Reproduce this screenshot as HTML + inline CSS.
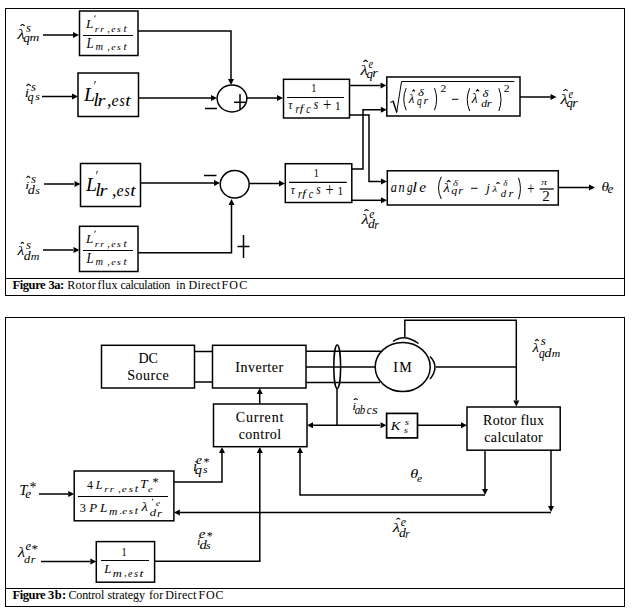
<!DOCTYPE html>
<html><head><meta charset="utf-8"><style>
html,body{margin:0;padding:0;background:#fff;}
svg{display:block;}
text{font-family:"Liberation Serif",serif;fill:#000;stroke:#000;stroke-width:0px;stroke:none;}
line,polyline,rect,ellipse,path{stroke:#000;}
</style></head><body>
<svg width="632" height="613" viewBox="0 0 632 613">
<rect x="5.5" y="8.5" width="619.0" height="287.0" fill="none" stroke-width="1"/>
<line x1="5" y1="278.5" x2="625" y2="278.5" stroke-width="1"/>
<text x="12.40" y="288.8" font-size="12.5" font-weight="bold" textLength="33.28" lengthAdjust="spacing">Figure</text>
<text x="48.50" y="288.8" font-size="12.5" font-weight="bold" textLength="15.63" lengthAdjust="spacing">3a:</text>
<text x="67.20" y="288.8" font-size="12" textLength="28.51" lengthAdjust="spacing">Rotor</text>
<text x="97.60" y="288.8" font-size="12" textLength="19.97" lengthAdjust="spacing">flux</text>
<text x="120.40" y="288.8" font-size="12" textLength="49.87" lengthAdjust="spacing">calculation</text>
<text x="176.00" y="288.8" font-size="12" textLength="9.41" lengthAdjust="spacing">in</text>
<text x="188.60" y="288.8" font-size="12" textLength="31.42" lengthAdjust="spacing">Direct</text>
<text x="221.50" y="288.8" font-size="12" textLength="25.68" lengthAdjust="spacing">FOC</text>
<polyline points="20.5,25.7 22.549999999999997,24.3 24.599999999999998,25.7" fill="none" stroke-width="1.05"/>
<text transform="translate(17.41,38.80) scale(1.216,1)" font-size="13.62" font-style="italic">λ</text>
<text transform="translate(25.97,32.49) scale(1.122,1)" font-size="11.46" font-style="italic">s</text>
<text transform="translate(23.24,41.93) scale(1.101,1)" font-size="11.97" font-style="italic">q</text>
<text transform="translate(29.43,41.40) scale(1.250,1)" font-size="10.85" font-style="italic">m</text>
<polyline points="26.400000000000002,85.7 28.55,84.2 30.7,85.7" fill="none" stroke-width="1.05"/>
<text transform="translate(24.66,97.30) scale(1.250,1)" font-size="12.27" font-style="italic">i</text>
<text transform="translate(31.07,91.48) scale(1.083,1)" font-size="11.87" font-style="italic">s</text>
<text transform="translate(27.47,100.80) scale(0.978,1)" font-size="12.55" font-style="italic">q</text>
<text transform="translate(35.18,100.09) scale(1.061,1)" font-size="11.04" font-style="italic">s</text>
<polyline points="26.400000000000002,177.8 28.35,176.20000000000002 30.3,177.8" fill="none" stroke-width="1.05"/>
<text transform="translate(25.13,188.60) scale(1.250,1)" font-size="11.21" font-style="italic">i</text>
<text transform="translate(31.07,182.69) scale(1.122,1)" font-size="11.46" font-style="italic">s</text>
<text transform="translate(27.77,194.18) scale(1.226,1)" font-size="11.63" font-style="italic">d</text>
<text transform="translate(35.18,194.20) scale(1.148,1)" font-size="10.21" font-style="italic">s</text>
<polyline points="20.7,243.5 22.35,242.3 24.0,243.5" fill="none" stroke-width="1.05"/>
<text transform="translate(17.49,254.60) scale(1.250,1)" font-size="12.34" font-style="italic">λ</text>
<text transform="translate(26.07,248.58) scale(1.083,1)" font-size="11.87" font-style="italic">s</text>
<text transform="translate(23.79,260.08) scale(1.189,1)" font-size="11.63" font-style="italic">d</text>
<text transform="translate(30.68,260.20) scale(1.122,1)" font-size="10.64" font-style="italic">m</text>
<polyline points="363.40000000000003,61.699999999999996 365.55,60.199999999999996 367.7,61.699999999999996" fill="none" stroke-width="1.05"/>
<text transform="translate(360.53,74.60) scale(1.249,1)" font-size="13.62" font-style="italic">λ</text>
<text transform="translate(368.59,68.39) scale(0.895,1)" font-size="11.46" font-style="italic">e</text>
<text x="366.46" y="77.77" font-size="12.70" font-style="italic">q</text>
<text transform="translate(372.23,77.30) scale(1.221,1)" font-size="11.70" font-style="italic">r</text>
<polyline points="563.4,90.89999999999999 565.55,89.39999999999999 567.7,90.89999999999999" fill="none" stroke-width="1.05"/>
<text transform="translate(560.53,103.80) scale(1.249,1)" font-size="13.62" font-style="italic">λ</text>
<text transform="translate(568.59,97.59) scale(0.895,1)" font-size="11.46" font-style="italic">e</text>
<text x="566.46" y="106.97" font-size="12.70" font-style="italic">q</text>
<text transform="translate(572.23,106.50) scale(1.221,1)" font-size="11.70" font-style="italic">r</text>
<polyline points="364.40000000000003,210.70000000000002 366.45000000000005,209.5 368.5,210.70000000000002" fill="none" stroke-width="1.05"/>
<text transform="translate(361.53,223.60) scale(1.250,1)" font-size="13.62" font-style="italic">λ</text>
<text transform="translate(369.15,217.68) scale(0.972,1)" font-size="11.87" font-style="italic">e</text>
<text transform="translate(368.09,228.39) scale(1.185,1)" font-size="11.49" font-style="italic">d</text>
<text x="374.34" y="228.50" font-size="11.49" font-style="italic">r</text>
<text transform="translate(601.54,190.58) scale(1.250,1)" font-size="12.11" font-style="italic">θ</text>
<text transform="translate(607.61,193.39) scale(1.141,1)" font-size="11.46" font-style="italic">e</text>
<rect x="79.5" y="11" width="58.5" height="44.5" fill="none" stroke-width="1.5"/>
<line x1="83" y1="35.5" x2="133" y2="35.5" stroke-width="1.2"/>
<text x="86.03" y="27.80" font-size="13.13" font-style="italic">L</text>
<polygon points="94.75,15.399999999999999 95.94999999999999,15.399999999999999 94.64999999999999,17.8 94.25,17.8" fill="#000" stroke="none"/>
<text transform="translate(94.77,31.80) scale(1.250,1)" font-size="8.51" font-style="italic">r</text>
<text transform="translate(100.21,31.80) scale(1.141,1)" font-size="8.51" font-style="italic">r</text>
<text x="107.15" y="31.82" font-size="10.00" font-style="italic">,</text>
<text transform="translate(111.20,31.72) scale(1.200,1)" font-size="8.33" font-style="italic">e</text>
<text transform="translate(117.10,31.72) scale(1.166,1)" font-size="8.33" font-style="italic">s</text>
<text transform="translate(123.39,31.70) scale(1.168,1)" font-size="9.74" font-style="italic">t</text>
<text transform="translate(86.53,47.60) scale(0.948,1)" font-size="13.59" font-style="italic">L</text>
<text transform="translate(95.54,49.70) scale(1.110,1)" font-size="9.36" font-style="italic">m</text>
<text x="107.15" y="49.52" font-size="10.00" font-style="italic">,</text>
<text transform="translate(111.20,49.61) scale(1.091,1)" font-size="9.17" font-style="italic">e</text>
<text transform="translate(117.10,49.61) scale(1.060,1)" font-size="9.17" font-style="italic">s</text>
<text transform="translate(123.39,49.60) scale(1.090,1)" font-size="10.43" font-style="italic">t</text>
<rect x="79.5" y="226.3" width="58.5" height="45.2" fill="none" stroke-width="1.5"/>
<line x1="83" y1="250.5" x2="133" y2="250.5" stroke-width="1.2"/>
<text x="86.03" y="243.10" font-size="13.13" font-style="italic">L</text>
<polygon points="94.75,230.7 95.94999999999999,230.7 94.64999999999999,233.10000000000002 94.25,233.10000000000002" fill="#000" stroke="none"/>
<text transform="translate(94.77,247.10) scale(1.250,1)" font-size="8.51" font-style="italic">r</text>
<text transform="translate(100.21,247.10) scale(1.141,1)" font-size="8.51" font-style="italic">r</text>
<text x="107.15" y="247.13" font-size="10.00" font-style="italic">,</text>
<text transform="translate(111.20,247.02) scale(1.200,1)" font-size="8.33" font-style="italic">e</text>
<text transform="translate(117.10,247.02) scale(1.166,1)" font-size="8.33" font-style="italic">s</text>
<text transform="translate(123.39,247.00) scale(1.168,1)" font-size="9.74" font-style="italic">t</text>
<text transform="translate(86.53,262.90) scale(0.948,1)" font-size="13.59" font-style="italic">L</text>
<text transform="translate(95.54,265.00) scale(1.110,1)" font-size="9.36" font-style="italic">m</text>
<text x="107.15" y="264.82" font-size="10.00" font-style="italic">,</text>
<text transform="translate(111.20,264.91) scale(1.091,1)" font-size="9.17" font-style="italic">e</text>
<text transform="translate(117.10,264.91) scale(1.060,1)" font-size="9.17" font-style="italic">s</text>
<text transform="translate(123.39,264.90) scale(1.090,1)" font-size="10.43" font-style="italic">t</text>
<rect x="78" y="73" width="60.5" height="43.5" fill="none" stroke-width="1.5"/>
<text x="83.90" y="101.40" font-size="19.69" font-style="italic">L</text>
<polygon points="94.70000000000002,81.0 95.9,81.0 94.60000000000001,84.5 94.20000000000002,84.5" fill="#000" stroke="none"/>
<text transform="translate(93.30,106.20) scale(1.121,1)" font-size="17.84" font-style="italic">l</text>
<text transform="translate(97.59,106.20) scale(1.192,1)" font-size="17.02" font-style="italic">r</text>
<text x="107.07" y="106.00" font-size="18.00" font-style="italic">,</text>
<text transform="translate(111.62,106.03) scale(0.954,1)" font-size="16.67" font-style="italic">e</text>
<text transform="translate(119.47,106.03) scale(0.800,1)" font-size="16.67" font-style="italic">s</text>
<text transform="translate(125.32,106.03) scale(1.162,1)" font-size="16.87" font-style="italic">t</text>
<rect x="80.5" y="163.5" width="60.0" height="43.0" fill="none" stroke-width="1.5"/>
<text x="85.90" y="191.40" font-size="19.69" font-style="italic">L</text>
<polygon points="96.70000000000002,171.0 97.9,171.0 96.60000000000001,174.5 96.20000000000002,174.5" fill="#000" stroke="none"/>
<text transform="translate(95.30,196.20) scale(1.121,1)" font-size="17.84" font-style="italic">l</text>
<text transform="translate(99.59,196.20) scale(1.192,1)" font-size="17.02" font-style="italic">r</text>
<text x="112.07" y="196.00" font-size="18.00" font-style="italic">,</text>
<text transform="translate(116.62,196.03) scale(0.954,1)" font-size="16.67" font-style="italic">e</text>
<text transform="translate(124.47,196.03) scale(0.800,1)" font-size="16.67" font-style="italic">s</text>
<text transform="translate(130.32,196.03) scale(1.162,1)" font-size="16.87" font-style="italic">t</text>
<line x1="43" y1="35" x2="73" y2="35" stroke-width="1.5"/>
<polygon points="79,35 73,32 73,38" fill="#000" stroke="none"/>
<line x1="42" y1="96.5" x2="72" y2="96.5" stroke-width="1.5"/>
<polygon points="78,96.5 72,93.5 72,99.5" fill="#000" stroke="none"/>
<line x1="44" y1="184" x2="74" y2="184" stroke-width="1.5"/>
<polygon points="80.5,184 74.5,181 74.5,187" fill="#000" stroke="none"/>
<line x1="43" y1="250" x2="73" y2="250" stroke-width="1.5"/>
<polygon points="79.5,250 73.5,247 73.5,253" fill="#000" stroke="none"/>
<polyline points="138,31 231,31 231,79" fill="none" stroke-width="1.5"/>
<polygon points="231,85 228,79 234,79" fill="#000" stroke="none"/>
<line x1="138.5" y1="98" x2="211" y2="98" stroke-width="1.5"/>
<polygon points="217,98 211,95 211,101" fill="#000" stroke="none"/>
<ellipse cx="232" cy="98.5" rx="14.85" ry="13.4" fill="none" stroke-width="1.5"/>
<line x1="205" y1="108.5" x2="217" y2="108.5" stroke-width="1.5"/>
<line x1="234" y1="102.3" x2="246" y2="102.3" stroke-width="1.5"/>
<line x1="240" y1="94" x2="240" y2="109.7" stroke-width="1.5"/>
<line x1="247" y1="98" x2="277" y2="98" stroke-width="1.5"/>
<polygon points="283,98 277,95 277,101" fill="#000" stroke="none"/>
<rect x="283.5" y="79.3" width="66.0" height="38.7" fill="none" stroke-width="1.5"/>
<line x1="287" y1="97.5" x2="344" y2="97.5" stroke-width="1.2"/>
<text transform="translate(311.22,91.90) scale(0.800,1)" font-size="12.88">1</text>
<text transform="translate(288.37,109.47) scale(0.867,1)" font-size="13.40" font-style="italic">τ</text>
<text transform="translate(295.60,112.90) scale(0.825,1)" font-size="12.13" font-style="italic">r</text>
<text transform="translate(299.77,112.36) scale(1.250,1)" font-size="10.43" font-style="italic">f</text>
<text transform="translate(306.30,112.78) scale(0.832,1)" font-size="11.87" font-style="italic">c</text>
<text transform="translate(313.69,109.46) scale(0.807,1)" font-size="14.17" font-style="italic">s</text>
<text transform="translate(322.97,111.32) scale(0.809,1)" font-size="18.09">+</text>
<text transform="translate(334.94,109.60) scale(0.875,1)" font-size="12.88">1</text>
<rect x="285.3" y="163.7" width="66.5" height="38.8" fill="none" stroke-width="1.5"/>
<line x1="289" y1="182.3" x2="346.8" y2="182.3" stroke-width="1.2"/>
<text transform="translate(313.72,176.90) scale(0.800,1)" font-size="12.88">1</text>
<text transform="translate(290.87,194.47) scale(0.867,1)" font-size="13.40" font-style="italic">τ</text>
<text transform="translate(298.10,197.90) scale(0.825,1)" font-size="12.13" font-style="italic">r</text>
<text transform="translate(302.27,197.36) scale(1.250,1)" font-size="10.43" font-style="italic">f</text>
<text transform="translate(308.80,197.78) scale(0.832,1)" font-size="11.87" font-style="italic">c</text>
<text transform="translate(316.19,194.46) scale(0.807,1)" font-size="14.17" font-style="italic">s</text>
<text transform="translate(325.47,196.32) scale(0.809,1)" font-size="18.09">+</text>
<text transform="translate(337.44,194.60) scale(0.875,1)" font-size="12.88">1</text>
<line x1="140.5" y1="183" x2="214" y2="183" stroke-width="1.5"/>
<polygon points="220,183 214,180 214,186" fill="#000" stroke="none"/>
<ellipse cx="234.7" cy="184.3" rx="14.45" ry="13.7" fill="none" stroke-width="1.5"/>
<line x1="204" y1="175.5" x2="216.5" y2="175.5" stroke-width="1.5"/>
<line x1="249.5" y1="183.5" x2="279" y2="183.5" stroke-width="1.5"/>
<polygon points="285,183.5 279,180.5 279,186.5" fill="#000" stroke="none"/>
<polyline points="138,252.7 231.5,252.7 231.5,205" fill="none" stroke-width="1.5"/>
<polygon points="231.5,199 228.5,205 234.5,205" fill="#000" stroke="none"/>
<line x1="237.5" y1="246.5" x2="249.5" y2="246.5" stroke-width="1.5"/>
<line x1="243.5" y1="235" x2="243.5" y2="258" stroke-width="1.5"/>
<line x1="349.5" y1="85.5" x2="380.5" y2="85.5" stroke-width="1.5"/>
<polygon points="386.5,85.5 380.5,82.5 380.5,88.5" fill="#000" stroke="none"/>
<polyline points="349.5,115 369,115 369,181.5 381,181.5" fill="none" stroke-width="1.5"/>
<polygon points="387,181.5 381,178.5 381,184.5" fill="#000" stroke="none"/>
<polyline points="351.8,169 363,169 363,109.7 380.8,109.7" fill="none" stroke-width="1.5"/>
<polygon points="386.8,109.7 380.8,106.7 380.8,112.7" fill="#000" stroke="none"/>
<line x1="351.8" y1="200.3" x2="381" y2="200.3" stroke-width="1.5"/>
<polygon points="387,200.3 381,197.3 381,203.3" fill="#000" stroke="none"/>
<rect x="386.8" y="77" width="133.2" height="39" fill="none" stroke-width="1.5"/>
<path d="M390.2,102.6 L392.8,101.2" fill="none" stroke-width="1.0"/>
<polygon points="392.2,101.0 393.6,100.6 397.2,111.2 396.4,113.2" fill="#000" stroke="none"/>
<path d="M396.6,112.8 L401.5,81.5 L514.4,81.5" fill="none" stroke-width="1.0"/>
<path d="M406.2,88.1 Q401.3,99.15 406.2,110.2" fill="none" stroke-width="1.0"/>
<polyline points="412.3,91.5 413.65,89.8 415.0,91.5" fill="none" stroke-width="1.05"/>
<text transform="translate(408.63,103.10) scale(0.972,1)" font-size="13.48" font-style="italic">λ</text>
<text transform="translate(417.92,96.39) scale(1.138,1)" font-size="11.13" font-style="italic">δ</text>
<text transform="translate(416.88,104.52) scale(0.800,1)" font-size="11.53" font-style="italic">q</text>
<text transform="translate(423.41,104.30) scale(1.250,1)" font-size="9.79" font-style="italic">r</text>
<path d="M434.5,88.1 Q438.8,99.15 434.5,110.2" fill="none" stroke-width="1.0"/>
<text transform="translate(440.48,91.50) scale(1.116,1)" font-size="10.30">2</text>
<line x1="452.0" y1="99.3" x2="458.4" y2="99.3" stroke-width="1.0"/>
<path d="M469.7,88.2 Q464.8,99.6 469.7,111.0" fill="none" stroke-width="1.0"/>
<polyline points="476.0,91.5 477.6,89.5 479.2,91.5" fill="none" stroke-width="1.05"/>
<text x="471.84" y="102.90" font-size="13.76" font-style="italic">λ</text>
<text transform="translate(482.52,96.50) scale(1.250,1)" font-size="10.14" font-style="italic">δ</text>
<text transform="translate(481.25,106.71) scale(1.250,1)" font-size="9.36" font-style="italic">d</text>
<text transform="translate(486.79,106.80) scale(1.250,1)" font-size="10.21" font-style="italic">r</text>
<path d="M498.8,88.2 Q503.2,99.6 498.8,111.0" fill="none" stroke-width="1.0"/>
<text transform="translate(503.87,91.50) scale(1.077,1)" font-size="10.91">2</text>
<line x1="520" y1="97" x2="550.5" y2="97" stroke-width="1.5"/>
<polygon points="556.5,97 550.5,94 550.5,100" fill="#000" stroke="none"/>
<rect x="387.3" y="170.8" width="171.0" height="34.2" fill="none" stroke-width="1.5"/>
<text transform="translate(390.83,191.86) scale(0.883,1)" font-size="13.96" font-style="italic">a</text>
<text transform="translate(398.56,192.00) scale(0.875,1)" font-size="14.26" font-style="italic">n</text>
<text transform="translate(406.90,191.82) scale(0.813,1)" font-size="13.87" font-style="italic">g</text>
<text transform="translate(412.25,192.00) scale(1.250,1)" font-size="13.81" font-style="italic">l</text>
<text transform="translate(419.24,191.86) scale(1.102,1)" font-size="13.96" font-style="italic">e</text>
<path d="M441.3,176.8 Q435.7,187.9 441.3,199.0" fill="none" stroke-width="1.0"/>
<polyline points="446.8,182.0 448.65,180.4 450.5,182.0" fill="none" stroke-width="1.05"/>
<text transform="translate(443.56,192.00) scale(1.250,1)" font-size="11.49" font-style="italic">λ</text>
<text transform="translate(452.88,186.22) scale(1.250,1)" font-size="8.45" font-style="italic">δ</text>
<text transform="translate(451.28,194.20) scale(1.232,1)" font-size="9.78" font-style="italic">q</text>
<text transform="translate(458.31,194.20) scale(1.250,1)" font-size="9.79" font-style="italic">r</text>
<line x1="471.0" y1="188.3" x2="477.59999999999997" y2="188.3" stroke-width="1.0"/>
<text transform="translate(486.24,192.07) scale(1.045,1)" font-size="12.23" font-style="italic">j</text>
<polyline points="496.3,183.60000000000002 498.0,182.5 499.7,183.60000000000002" fill="none" stroke-width="1.05"/>
<text transform="translate(492.56,192.30) scale(1.250,1)" font-size="8.37" font-style="italic">λ</text>
<text transform="translate(503.13,185.93) scale(1.250,1)" font-size="7.18" font-style="italic">δ</text>
<text transform="translate(500.67,197.00) scale(1.142,1)" font-size="9.50" font-style="italic">d</text>
<text transform="translate(508.40,197.10) scale(1.136,1)" font-size="11.06" font-style="italic">r</text>
<path d="M518.5,177.8 Q522.4000000000001,188.55 518.5,199.29999999999998" fill="none" stroke-width="1.0"/>
<text transform="translate(527.26,193.82) scale(0.800,1)" font-size="15.96">+</text>
<text transform="translate(541.34,185.11) scale(1.250,1)" font-size="9.15" font-style="italic">π</text>
<text transform="translate(542.23,201.00) scale(1.088,1)" font-size="13.79">2</text>
<line x1="539.6" y1="189" x2="553.8" y2="189" stroke-width="1.2"/>
<line x1="558.3" y1="187.5" x2="589" y2="187.5" stroke-width="1.5"/>
<polygon points="595,187.5 589,184.5 589,190.5" fill="#000" stroke="none"/>
<rect x="5.5" y="317.5" width="619.0" height="289.0" fill="none" stroke-width="1"/>
<line x1="5" y1="588.5" x2="625" y2="588.5" stroke-width="1"/>
<text x="12.40" y="598.8" font-size="12.5" font-weight="bold" textLength="33.28" lengthAdjust="spacing">Figure</text>
<text x="48.10" y="598.8" font-size="12.5" font-weight="bold" textLength="18.15" lengthAdjust="spacing">3b:</text>
<text x="68.50" y="598.8" font-size="12" textLength="35.78" lengthAdjust="spacing">Control</text>
<text x="107.40" y="598.8" font-size="12" textLength="37.67" lengthAdjust="spacing">strategy</text>
<text x="149.00" y="598.8" font-size="12" textLength="14.17" lengthAdjust="spacing">for</text>
<text x="165.20" y="598.8" font-size="12" textLength="31.18" lengthAdjust="spacing">Direct</text>
<text x="198.40" y="598.8" font-size="12" textLength="25.23" lengthAdjust="spacing">FOC</text>
<rect x="101.5" y="345.3" width="93.0" height="42.7" fill="none" stroke-width="1.5"/>
<text x="148.2" y="363" font-size="14" text-anchor="middle" textLength="19.5" lengthAdjust="spacing" style="stroke:#000;stroke-width:0.08px">DC</text>
<text x="147.9" y="380" font-size="14" text-anchor="middle" textLength="41.5" lengthAdjust="spacing" style="stroke:#000;stroke-width:0.08px">Source</text>
<rect x="212.5" y="345.3" width="93.5" height="42.7" fill="none" stroke-width="1.5"/>
<text x="259.2" y="372" font-size="14" text-anchor="middle" textLength="48" lengthAdjust="spacing" style="stroke:#000;stroke-width:0.08px">Inverter</text>
<line x1="194.5" y1="351.5" x2="212.5" y2="351.5" stroke-width="1.5"/>
<line x1="194.5" y1="382" x2="212.5" y2="382" stroke-width="1.5"/>
<line x1="306" y1="351.3" x2="381" y2="351.3" stroke-width="1.5"/>
<line x1="306" y1="367" x2="375" y2="367" stroke-width="1.5"/>
<line x1="306" y1="382.5" x2="380" y2="382.5" stroke-width="1.5"/>
<ellipse cx="337.2" cy="366.8" rx="3.4" ry="21.7" fill="none" stroke-width="1.5"/>
<line x1="337" y1="388.5" x2="337" y2="425" stroke-width="1.5"/>
<ellipse cx="402.7" cy="367" rx="27.5" ry="24.5" fill="none" stroke-width="1.5"/>
<text x="402.5" y="372" font-size="14" text-anchor="middle" textLength="18.5" lengthAdjust="spacing" style="stroke:#000;stroke-width:0.08px">IM</text>
<path d="M393,341.5 Q404,333 418.5,343.5" fill="none" stroke-width="1.5"/>
<path d="M430,356.5 Q440,367 430,379" fill="none" stroke-width="1.5"/>
<polyline points="404.8,337.5 404.8,320.3 516.3,320.3 516.3,400.5" fill="none" stroke-width="1.5"/>
<polygon points="516.3,406.5 513.3,400.5 519.3,400.5" fill="#000" stroke="none"/>
<line x1="436" y1="367" x2="516.3" y2="367" stroke-width="1.5"/>
<rect x="467" y="407" width="93.2" height="43.2" fill="none" stroke-width="1.5"/>
<text x="513.45" y="425" font-size="14" text-anchor="middle" textLength="61" lengthAdjust="spacing" style="stroke:#000;stroke-width:0.08px">Rotor flux</text>
<text x="513.5" y="442" font-size="14" text-anchor="middle" textLength="58.5" lengthAdjust="spacing" style="stroke:#000;stroke-width:0.08px">calculator</text>
<rect x="213.5" y="404" width="93.5" height="42.7" fill="none" stroke-width="1.5"/>
<text x="259.55" y="421.5" font-size="14" text-anchor="middle" textLength="47.5" lengthAdjust="spacing" style="stroke:#000;stroke-width:0.08px">Current</text>
<text x="259.9" y="438.5" font-size="14" text-anchor="middle" textLength="42.5" lengthAdjust="spacing" style="stroke:#000;stroke-width:0.08px">control</text>
<line x1="259.7" y1="404" x2="259.7" y2="394" stroke-width="1.5"/>
<polygon points="259.7,388 256.7,394 262.7,394" fill="#000" stroke="none"/>
<line x1="313" y1="425.3" x2="380" y2="425.3" stroke-width="1.5"/>
<polygon points="307,425.3 313,422.3 313,428.3" fill="#000" stroke="none"/>
<polygon points="386.5,425.3 380.5,422.3 380.5,428.3" fill="#000" stroke="none"/>
<rect x="386.6" y="413.4" width="30.9" height="24.5" fill="none" stroke-width="1.7"/>
<text transform="translate(390.64,429.70) scale(1.087,1)" font-size="13.28" font-style="italic">K</text>
<text transform="translate(404.90,424.51) scale(1.122,1)" font-size="9.17" font-style="italic">s</text>
<text transform="translate(404.10,432.51) scale(1.143,1)" font-size="8.75" font-style="italic">s</text>
<line x1="417.5" y1="425.3" x2="461" y2="425.3" stroke-width="1.5"/>
<polygon points="467,425.3 461,422.3 461,428.3" fill="#000" stroke="none"/>
<polyline points="353.7,399.8 355.7,398.6 357.7,399.8" fill="none" stroke-width="1.05"/>
<text transform="translate(352.24,410.30) scale(1.250,1)" font-size="11.06" font-style="italic">i</text>
<text transform="translate(354.67,413.58) scale(0.924,1)" font-size="12.08" font-style="italic">a</text>
<text transform="translate(359.82,413.58) scale(0.876,1)" font-size="12.34" font-style="italic">b</text>
<text transform="translate(366.78,413.58) scale(0.879,1)" font-size="12.08" font-style="italic">c</text>
<text transform="translate(372.05,413.58) scale(1.230,1)" font-size="12.08" font-style="italic">s</text>
<polyline points="535.0999999999999,340.90000000000003 536.95,339.40000000000003 538.8000000000001,340.90000000000003" fill="none" stroke-width="1.05"/>
<text transform="translate(532.57,351.50) scale(1.179,1)" font-size="12.48" font-style="italic">λ</text>
<text transform="translate(540.87,345.38) scale(1.102,1)" font-size="11.67" font-style="italic">s</text>
<text transform="translate(538.90,357.68) scale(0.837,1)" font-size="13.58" font-style="italic">q</text>
<text transform="translate(544.27,356.99) scale(1.250,1)" font-size="11.49" font-style="italic">d</text>
<text transform="translate(551.69,357.10) scale(1.065,1)" font-size="11.06" font-style="italic">m</text>
<rect x="74.2" y="471" width="99.7" height="49.8" fill="none" stroke-width="1.5"/>
<line x1="78" y1="496.5" x2="168" y2="496.5" stroke-width="1.2"/>
<text transform="translate(87.06,488.80) scale(0.897,1)" font-size="13.18">4</text>
<text transform="translate(95.72,488.80) scale(0.912,1)" font-size="13.28" font-style="italic">L</text>
<text transform="translate(104.27,491.60) scale(1.250,1)" font-size="8.51" font-style="italic">r</text>
<text transform="translate(109.77,491.60) scale(1.250,1)" font-size="8.51" font-style="italic">r</text>
<text x="118.20" y="491.77" font-size="10.00" font-style="italic">,</text>
<text transform="translate(121.86,491.51) scale(1.250,1)" font-size="9.17" font-style="italic">e</text>
<text transform="translate(128.79,491.51) scale(1.216,1)" font-size="9.17" font-style="italic">s</text>
<text transform="translate(134.65,491.50) scale(1.250,1)" font-size="9.74" font-style="italic">t</text>
<text transform="translate(139.91,488.40) scale(1.131,1)" font-size="12.06" font-style="italic">T</text>
<text transform="translate(147.99,491.52) scale(1.250,1)" font-size="8.33" font-style="italic">e</text>
<text x="152.60" y="485.77" font-size="12.00">*</text>
<text transform="translate(79.65,511.67) scale(0.946,1)" font-size="12.99">3</text>
<text transform="translate(89.26,511.80) scale(0.970,1)" font-size="13.28" font-style="italic">P</text>
<text x="100.03" y="511.80" font-size="13.28" font-style="italic">L</text>
<text transform="translate(108.99,514.90) scale(1.163,1)" font-size="10.00" font-style="italic">m</text>
<text x="119.70" y="514.45" font-size="10.00" font-style="italic">.</text>
<text transform="translate(122.26,514.41) scale(1.250,1)" font-size="8.96" font-style="italic">e</text>
<text transform="translate(128.79,514.41) scale(1.244,1)" font-size="8.96" font-style="italic">s</text>
<text transform="translate(134.67,514.41) scale(1.250,1)" font-size="9.39" font-style="italic">t</text>
<text transform="translate(141.56,511.40) scale(1.230,1)" font-size="11.77" font-style="italic">λ</text>
<polygon points="152.29999999999998,498.7 153.49999999999997,498.7 152.2,500.7 151.79999999999998,500.7" fill="#000" stroke="none"/>
<text transform="translate(155.92,505.73) scale(1.250,1)" font-size="7.50" font-style="italic">e</text>
<text transform="translate(149.82,516.39) scale(1.139,1)" font-size="11.21" font-style="italic">d</text>
<text transform="translate(156.90,516.50) scale(1.250,1)" font-size="10.00" font-style="italic">r</text>
<text x="19.27" y="494.80" font-size="14.66" font-style="italic">T</text>
<text x="25.31" y="498.47" font-size="13.33" font-style="italic">e</text>
<text x="29.50" y="491.81" font-size="14.00">*</text>
<line x1="39" y1="494" x2="68" y2="494" stroke-width="1.5"/>
<polygon points="74.2,494 68.2,491 68.2,497" fill="#000" stroke="none"/>
<polyline points="173.9,482 222,482 222,453" fill="none" stroke-width="1.5"/>
<polygon points="222,447 219,453 225,453" fill="#000" stroke="none"/>
<text transform="translate(192.88,470.80) scale(1.079,1)" font-size="13.79" font-style="italic">i</text>
<text transform="translate(196.09,464.48) scale(1.125,1)" font-size="12.08" font-style="italic">e</text>
<text x="203.55" y="466.22" font-size="12.00">*</text>
<text transform="translate(194.80,473.80) scale(1.140,1)" font-size="12.55" font-style="italic">q</text>
<text transform="translate(203.08,473.49) scale(1.061,1)" font-size="11.04" font-style="italic">s</text>
<polyline points="485,450 485,489" fill="none" stroke-width="1.5"/>
<polygon points="485,495 482,489 488,489" fill="#000" stroke="none"/>
<polyline points="485,495 300,495 300,453" fill="none" stroke-width="1.5"/>
<polygon points="300,447 297,453 303,453" fill="#000" stroke="none"/>
<text transform="translate(410.19,478.47) scale(1.223,1)" font-size="13.24" font-style="italic">θ</text>
<text transform="translate(416.95,482.49) scale(1.026,1)" font-size="11.25" font-style="italic">e</text>
<polyline points="551,450 551,506" fill="none" stroke-width="1.5"/>
<polygon points="551,512 548,506 554,506" fill="#000" stroke="none"/>
<line x1="551" y1="512.5" x2="180" y2="512.5" stroke-width="1.5"/>
<polygon points="173.9,512.5 179.9,509.5 179.9,515.5" fill="#000" stroke="none"/>
<polyline points="396.3,519.4 398.3,518.4 400.3,519.4" fill="none" stroke-width="1.05"/>
<text transform="translate(392.72,532.40) scale(1.250,1)" font-size="13.33" font-style="italic">λ</text>
<text x="400.75" y="526.39" font-size="11.46" font-style="italic">e</text>
<text transform="translate(398.99,537.38) scale(1.171,1)" font-size="11.63" font-style="italic">d</text>
<text transform="translate(405.27,537.50) scale(0.895,1)" font-size="12.13" font-style="italic">r</text>
<rect x="96.3" y="541.6" width="58.3" height="40.6" fill="none" stroke-width="1.5"/>
<line x1="101" y1="560.5" x2="149" y2="560.5" stroke-width="1.2"/>
<text transform="translate(121.61,555.80) scale(0.800,1)" font-size="13.03">1</text>
<text transform="translate(104.33,572.80) scale(0.967,1)" font-size="13.13" font-style="italic">L</text>
<text transform="translate(112.76,576.80) scale(1.250,1)" font-size="10.00" font-style="italic">m</text>
<text x="124.20" y="576.38" font-size="10.00" font-style="italic">,</text>
<text transform="translate(128.00,576.70) scale(1.021,1)" font-size="9.79" font-style="italic">e</text>
<text transform="translate(134.10,576.70) scale(1.050,1)" font-size="9.79" font-style="italic">s</text>
<text transform="translate(139.58,576.69) scale(1.250,1)" font-size="10.96" font-style="italic">t</text>
<text transform="translate(17.73,556.80) scale(1.250,1)" font-size="13.62" font-style="italic">λ</text>
<text transform="translate(25.52,550.27) scale(0.973,1)" font-size="12.92" font-style="italic">e</text>
<text x="31.40" y="552.64" font-size="13.00">*</text>
<text transform="translate(24.04,562.50) scale(1.250,1)" font-size="9.65" font-style="italic">d</text>
<text transform="translate(30.72,562.60) scale(1.151,1)" font-size="10.43" font-style="italic">r</text>
<line x1="41" y1="561.5" x2="90" y2="561.5" stroke-width="1.5"/>
<polygon points="96.3,561.5 90.3,558.5 90.3,564.5" fill="#000" stroke="none"/>
<polyline points="154.6,561.3 259.8,561.3 259.8,453" fill="none" stroke-width="1.5"/>
<polygon points="259.8,447 256.8,453 262.8,453" fill="#000" stroke="none"/>
<text transform="translate(197.03,544.50) scale(1.250,1)" font-size="9.70" font-style="italic">i</text>
<text transform="translate(198.85,538.48) scale(1.250,1)" font-size="12.08" font-style="italic">e</text>
<text x="206.70" y="540.07" font-size="12.00">*</text>
<text transform="translate(199.56,549.38) scale(1.250,1)" font-size="11.77" font-style="italic">d</text>
<text transform="translate(206.08,549.39) scale(1.061,1)" font-size="11.04" font-style="italic">s</text>
</svg></body></html>
